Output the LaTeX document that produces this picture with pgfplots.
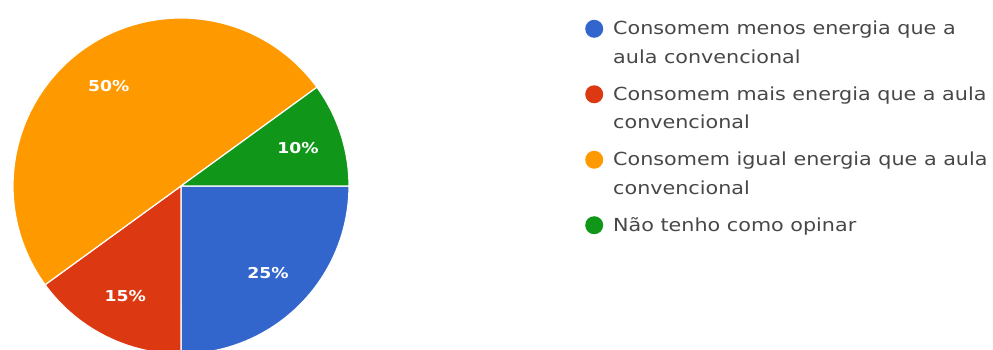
\documentclass[border=0pt]{standalone}
\usepackage{pgfplots}
\pgfplotsset{compat=1.18}
\usepackage{fontspec}
\setmainfont{DejaVu Sans}
\newfontfamily\legfont[FakeStretch=1.15]{DejaVu Sans}
\definecolor{gblue}{HTML}{3366CC}
\definecolor{gred}{HTML}{DC3912}
\definecolor{gorange}{HTML}{FF9900}
\definecolor{ggreen}{HTML}{109618}
\definecolor{txtgray}{HTML}{474747}
% shares in percent (clockwise from 3 o'clock)
\def\pA{25}\def\pB{15}\def\pC{50}\def\pD{10}
\begin{document}
\begin{tikzpicture}
\useasboundingbox (0,0) rectangle (993pt,350pt);
\pgfmathsetmacro{\aA}{0-3.6*\pA}
\pgfmathsetmacro{\aB}{\aA-3.6*\pB}
\pgfmathsetmacro{\aC}{\aB-3.6*\pC}
\pgfmathsetmacro{\aD}{\aC-3.6*\pD}
\begin{axis}[
  at={(0,0)}, anchor=south west,
  scale only axis, width=993pt, height=350pt,
  xmin=-181, xmax=812, ymin=-164, ymax=186,
  hide axis, clip=true,
  legend image code/.code={\path (0pt,9pt); \fill[#1,draw=none] (0pt,-8pt) circle (9pt);},
  legend cell align=left,
  legend style={draw=none, fill=none, inner sep=0pt,
    at={(axis cs:404,175)}, anchor=north west,
    row sep=12pt,
    nodes={inner sep=0pt, anchor=north west, align=left, text=txtgray,
      font=\legfont\fontsize{18}{28.5}\selectfont},
    /tikz/every odd column/.append style={column sep=10pt}},
]
\addplot[fill=gblue, draw=white, line width=1.2pt, domain=\aA:0, samples=60]
  ({168*cos(x)},{168*sin(x)}) -- (axis cs:0,0) -- cycle;
\addlegendentry{Consomem menos energia que a\\aula convencional}
\addplot[fill=gred, draw=white, line width=1.2pt, domain=\aB:\aA, samples=60]
  ({168*cos(x)},{168*sin(x)}) -- (axis cs:0,0) -- cycle;
\addlegendentry{Consomem mais energia que a aula\\convencional}
\addplot[fill=gorange, draw=white, line width=1.2pt, domain=\aC:\aB, samples=120]
  ({168*cos(x)},{168*sin(x)}) -- (axis cs:0,0) -- cycle;
\addlegendentry{Consomem igual energia que a aula\\convencional}
\addplot[fill=ggreen, draw=white, line width=1.2pt, domain=\aD:\aC, samples=60]
  ({168*cos(x)},{168*sin(x)}) -- (axis cs:0,0) -- cycle;
\addlegendentry{Não tenho como opinar}
\pgfmathsetmacro{\mA}{(0+\aA)/2}
\pgfmathsetmacro{\mB}{(\aA+\aB)/2}
\pgfmathsetmacro{\mC}{(\aB+\aC)/2}
\pgfmathsetmacro{\mD}{(\aC+\aD)/2}
\begin{scope}[every node/.style={text=white, font=\legfont\bfseries\fontsize{15}{18}\selectfont}]
\node at (axis cs:{123*cos(\mA)},{123*sin(\mA)}) {\pA\%};
\node at (axis cs:{123*cos(\mB)},{123*sin(\mB)}) {\pB\%};
\node at (axis cs:{123*cos(\mC)},{123*sin(\mC)}) {\pC\%};
\node at (axis cs:{123*cos(\mD)},{123*sin(\mD)}) {\pD\%};
\end{scope}
\end{axis}
\end{tikzpicture}
\end{document}
